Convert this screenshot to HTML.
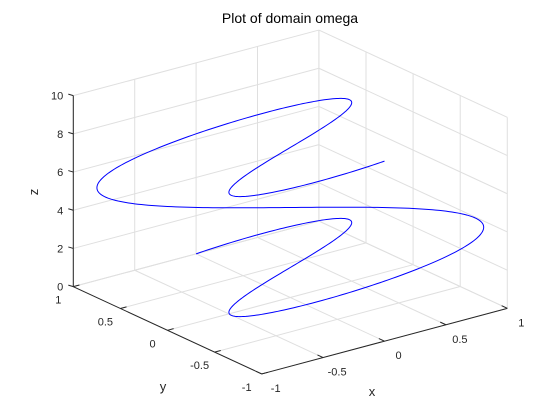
<!DOCTYPE html>
<html>
<head>
<meta charset="utf-8">
<style>
  html, body { margin: 0; padding: 0; background: #fff; }
  svg { display: block; font-family: "Liberation Sans", Arial, sans-serif; }
</style>
</head>
<body>
<svg id="chart" width="560" height="420" viewBox="0 0 560 420" xmlns="http://www.w3.org/2000/svg">
  <rect x="0" y="0" width="560" height="420" fill="#ffffff"/>
  <text x="290" y="23" font-size="14" text-anchor="middle" fill="#000">Plot of domain omega</text>
  <g id="grid"></g>
  <g id="axes"></g>
  <g id="series"></g>
  <text x="372" y="396" font-size="13" text-anchor="middle" fill="#262626">x</text>
  <text x="163" y="391" font-size="13" text-anchor="middle" fill="#262626">y</text>
  <text x="0" y="0" font-size="13" text-anchor="middle" fill="#262626" transform="translate(38,192) rotate(-90)">z</text>
</svg>
<script>
const xTicks = [-1, -0.5, 0, 0.5, 1];
const yTicks = [-1, -0.5, 0, 0.5, 1];
const zTicks = [0, 2, 4, 6, 8, 10];
const xTickLabels = ["-1", "-0.5", "0", "0.5", "1"];
const yTickLabels = ["-1", "-0.5", "0", "0.5", "1"];
const zTickLabels = ["0", "2", "4", "6", "8", "10"];
// curve: x = sin(2t), y = cos(t), z = t, t in [tStart, tEnd]
const tRange = [0, 3 * Math.PI];
const sampleCount = 600;

const NS = "http://www.w3.org/2000/svg";
const C = [290.3, 297.5], EX = [122.8, -32.8], EY = [-94.2, -43.65], EZ = 19.1;
function P(x, y, z) { return [C[0] + x * EX[0] + y * EY[0], C[1] + x * EX[1] + y * EY[1] - z * EZ]; }
function mk(tag, attrs, parent) {
  const e = document.createElementNS(NS, tag);
  for (const k in attrs) e.setAttribute(k, attrs[k]);
  parent.appendChild(e);
  return e;
}
function seg(a, b, color, parent, w) {
  return mk("line", {x1: a[0], y1: a[1], x2: b[0], y2: b[1], stroke: color, "stroke-width": w || 1}, parent);
}
const grid = document.getElementById("grid");
const axes = document.getElementById("axes");
const series = document.getElementById("series");
const GC = "#dfdfdf";
const zMax = zTicks[zTicks.length - 1];

xTicks.forEach(x => { const l = seg(P(x, -1, 0), P(x, 1, 0), GC, grid);
  
   });
yTicks.forEach(y => { const l = seg(P(-1, y, 0), P(1, y, 0), GC, grid);
  
   });
xTicks.forEach(x => { const l = seg(P(x, 1, 0), P(x, 1, zMax), GC, grid);
  
   });
zTicks.forEach(z => { const l = seg(P(-1, 1, z), P(1, 1, z), GC, grid);
  
   });
yTicks.forEach(y => { const l = seg(P(1, y, 0), P(1, y, zMax), GC, grid);
  
   });
zTicks.forEach(z => { const l = seg(P(1, -1, z), P(1, 1, z), GC, grid);
  
   });

const AC = "#262626";
let a;
a = seg(P(-1, 1, 0), P(-1, 1, zMax), AC, axes);


a = seg(P(-1, 1, 0), P(-1, -1, 0), AC, axes);


a = seg(P(-1, -1, 0), P(1, -1, 0), AC, axes);



function txt(s, x, y, anchor, parent) {
  const t = mk("text", {x: x, y: y, "font-size": 11, "text-anchor": anchor, fill: AC}, parent);
  t.textContent = s;
  return t;
}
xTicks.forEach((x, i) => {
  const p = P(x, -1, 0);
  const tk = seg(p, [p[0] + EY[0] * 0.06, p[1] + EY[1] * 0.06], AC, axes);
  
  
  const lb = txt(xTickLabels[i], p[0] + 14, p[1] + 18, "middle", axes);
  
  
});
yTicks.forEach((y, i) => {
  const p = P(-1, y, 0);
  const tk = seg(p, [p[0] + EX[0] * 0.05, p[1] + EX[1] * 0.05], AC, axes);
  
  
  const lb = txt(yTickLabels[i], p[0] - 15, p[1] + 17, "middle", axes);
  
  
});
zTicks.forEach((z, i) => {
  const p = P(-1, 1, z);
  const tk = seg(p, [p[0] - 5, p[1] - 1.5], AC, axes);
  
  
  const lb = txt(zTickLabels[i], p[0] - 10, p[1] + 4, "end", axes);
  
  
});

let d = "";
for (let i = 0; i <= sampleCount; i++) {
  const t = tRange[0] + (tRange[1] - tRange[0]) * i / sampleCount;
  const p = P(Math.sin(2 * t), Math.cos(t), t);
  d += (i ? "L" : "M") + p[0].toFixed(2) + "," + p[1].toFixed(2);
}
const curve = mk("path", {d: d, fill: "none", stroke: "#0000ff", "stroke-width": 1}, series);


</script>
</body>
</html>
